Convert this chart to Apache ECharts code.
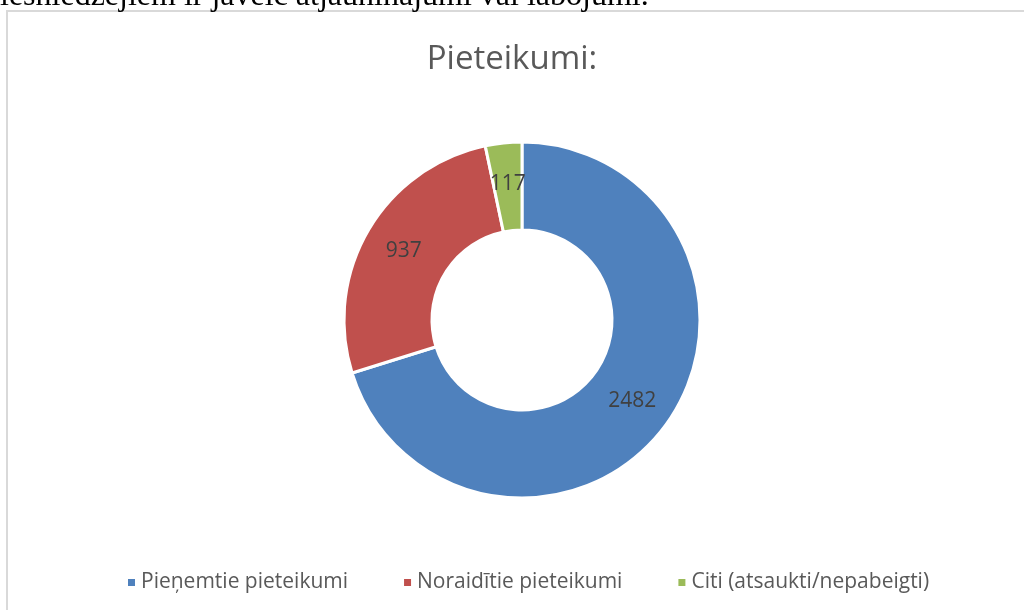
<!DOCTYPE html>
<html>
<head>
<meta charset="utf-8">
<script src="https://cdn.jsdelivr.net/npm/echarts@6/dist/echarts.min.js"></script>
<style>
  html, body { margin: 0; padding: 0; background: #fff; }
  #chart { width: 1024px; height: 610px; }
</style>
</head>
<body>
<div id="chart"></div>
<script>
const categories = ['Pieņemtie pieteikumi', 'Noraidītie pieteikumi', 'Citi (atsaukti/nepabeigti)'];
const values = [2482, 937, 117];
const colors = ['#4f81bd', '#c0504d', '#9bbb59'];
const titleText = 'Pieteikumi:';
const pageText = 'iesniedzējiem ir jāveic atjauninājumi vai labojumi.';

const myChart = echarts.init(document.getElementById('chart'));

const option = {
  animation: false,
  color: colors,
  title: {
    text: titleText,
    left: 'center',
    top: 38,
    textStyle: {
      fontFamily: 'Open Sans',
      fontSize: 33,
      fontWeight: 'normal',
      color: '#595959'
    }
  },
  legend: {
    bottom: 12,
    left: 121,
    icon: 'rect',
    itemWidth: 9,
    itemHeight: 9,
    itemGap: 54,
    data: categories,
    textStyle: {
      fontFamily: 'Open Sans',
      fontSize: 21,
      color: '#595959'
    }
  },
  graphic: [
    {
      type: 'rect',
      shape: { x: 7, y: 11, width: 1100, height: 700 },
      style: { fill: 'none', stroke: '#d9d9d9', lineWidth: 2 },
      silent: true
    },
    {
      type: 'text',
      x: 0,
      y: -3,
      style: {
        text: pageText,
        font: '32px "Liberation Serif"',
        fill: '#000',
        verticalAlign: 'middle'
      },
      silent: true
    }
  ],
  series: [{
    type: 'pie',
    center: [522, 320],
    radius: [90, 178],
    startAngle: 90,
    clockwise: true,
    avoidLabelOverlap: false,
    itemStyle: {
      borderColor: '#fff',
      borderWidth: 3
    },
    label: {
      show: true,
      position: 'inside',
      formatter: '{c}',
      fontFamily: 'Open Sans',
      fontSize: 21,
      color: '#404040'
    },
    labelLine: { show: false },
    data: categories.map((name, i) => ({ name: name, value: values[i] }))
  }]
};

myChart.setOption(option);
</script>
</body>
</html>
